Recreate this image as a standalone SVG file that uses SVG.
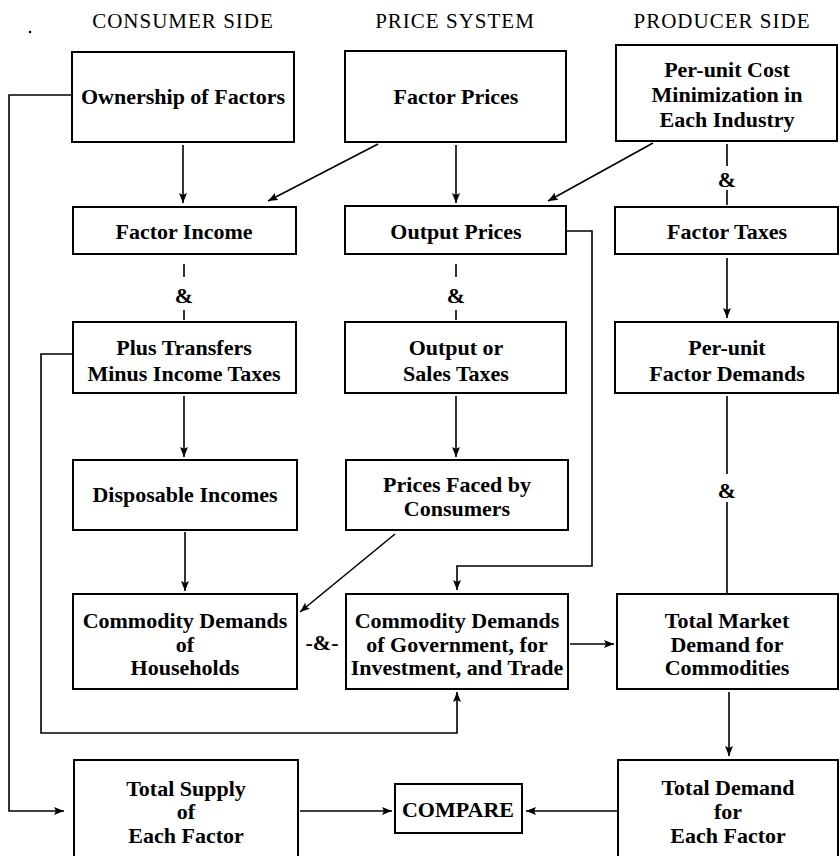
<svg xmlns="http://www.w3.org/2000/svg" width="840" height="856" viewBox="0 0 840 856">
<style>
.box{fill:#fff;stroke:#000;stroke-width:2}
.t{font-family:"Liberation Serif","Times New Roman",serif;font-size:22px;font-weight:bold;text-anchor:middle;fill:#000}
.h{font-family:"Liberation Serif","Times New Roman",serif;font-size:21px;letter-spacing:1px;text-anchor:middle;fill:#000}
.c{fill:none;stroke:#000;stroke-width:1.6}
</style>
<defs>
<marker id="ar" markerUnits="userSpaceOnUse" markerWidth="11" markerHeight="8" refX="10" refY="4" orient="auto">
<path d="M0,0 L10,4 L0,8 L2,4 z" fill="#000"/>
</marker>
</defs>
<rect width="840" height="856" fill="#fff"/>
<circle cx="30" cy="32" r="1.3" fill="#000"/>
<g id="headers">
<text class="h" x="183" y="28">CONSUMER SIDE</text>
<text class="h" x="455" y="28">PRICE SYSTEM</text>
<text class="h" x="722" y="28">PRODUCER SIDE</text>
</g>
<g id="connectors">
<path class="c" d="M183,145 L183,203" marker-end="url(#ar)"/>
<path class="c" d="M378,144 L268,201" marker-end="url(#ar)"/>
<path class="c" d="M456,145 L456,203" marker-end="url(#ar)"/>
<path class="c" d="M653,143 L548,201" marker-end="url(#ar)"/>
<path class="c" d="M727,144 L727,166 M727,190 L727,205"/>
<text class="t" x="727" y="187">&amp;</text>
<path class="c" d="M184,264 L184,277 M184,310 L184,320"/>
<text class="t" x="184" y="303">&amp;</text>
<path class="c" d="M456,264 L456,277 M456,310 L456,320"/>
<text class="t" x="456" y="303">&amp;</text>
<path class="c" d="M727,258 L727,318" marker-end="url(#ar)"/>
<path class="c" d="M184,396 L184,457" marker-end="url(#ar)"/>
<path class="c" d="M456,396 L456,457" marker-end="url(#ar)"/>
<path class="c" d="M727,396 L727,474 M727,502 L727,594"/>
<text class="t" x="727" y="498">&amp;</text>
<path class="c" d="M566,231 L592,231 L592,566 L457,566 L457,590" marker-end="url(#ar)"/>
<path class="c" d="M395,534 L300,612" marker-end="url(#ar)"/>
<path class="c" d="M185,532 L185,591" marker-end="url(#ar)"/>
<text class="t" x="322" y="650">-&amp;-</text>
<path class="c" d="M570,644 L614,644" marker-end="url(#ar)"/>
<path class="c" d="M73,354 L41,354 L41,733 L457,733 L457,692" marker-end="url(#ar)"/>
<path class="c" d="M72,95 L9,95 L9,811 L64,811" marker-end="url(#ar)"/>
<path class="c" d="M300,811 L392,811" marker-end="url(#ar)"/>
<path class="c" d="M617,811 L526,811" marker-end="url(#ar)"/>
<path class="c" d="M729,692 L729,756" marker-end="url(#ar)"/>
</g>
<g id="ownership"><rect class="box" x="72" y="52" width="222" height="90"/><text class="t" x="183" y="104">Ownership of Factors</text></g>
<g id="factor-prices"><rect class="box" x="345" y="51" width="221" height="91"/><text class="t" x="456" y="104">Factor Prices</text></g>
<g id="cost-min"><rect class="box" x="616" y="45" width="221" height="96"/><text class="t" x="727" y="77">Per-unit Cost</text><text class="t" x="727" y="102">Minimization in</text><text class="t" x="727" y="127">Each Industry</text></g>
<g id="factor-income"><rect class="box" x="73" y="207" width="223" height="47"/><text class="t" x="184" y="239">Factor Income</text></g>
<g id="output-prices"><rect class="box" x="345" y="206" width="221" height="48"/><text class="t" x="456" y="239">Output Prices</text></g>
<g id="factor-taxes"><rect class="box" x="615" y="207" width="223" height="47"/><text class="t" x="727" y="239">Factor Taxes</text></g>
<g id="transfers"><rect class="box" x="73" y="322" width="223" height="71"/><text class="t" x="184" y="355">Plus Transfers</text><text class="t" x="184" y="381">Minus Income Taxes</text></g>
<g id="output-taxes"><rect class="box" x="345" y="322" width="221" height="71"/><text class="t" x="456" y="355">Output or</text><text class="t" x="456" y="381">Sales Taxes</text></g>
<g id="factor-demands"><rect class="box" x="615" y="322" width="223" height="71"/><text class="t" x="727" y="355">Per-unit</text><text class="t" x="727" y="381">Factor Demands</text></g>
<g id="disposable"><rect class="box" x="73" y="460" width="224" height="70"/><text class="t" x="185" y="502">Disposable Incomes</text></g>
<g id="prices-faced"><rect class="box" x="346" y="460" width="222" height="70"/><text class="t" x="457" y="492">Prices Faced by</text><text class="t" x="457" y="516">Consumers</text></g>
<g id="households"><rect class="box" x="73" y="594" width="224" height="95"/><text class="t" x="185" y="628">Commodity Demands</text><text class="t" x="185" y="652">of</text><text class="t" x="185" y="675">Households</text></g>
<g id="government"><rect class="box" x="346" y="594" width="222" height="95"/><text class="t" x="457" y="628">Commodity Demands</text><text class="t" x="457" y="652">of Government, for</text><text class="t" x="457" y="675">Investment, and Trade</text></g>
<g id="market-demand"><rect class="box" x="617" y="594" width="221" height="95"/><text class="t" x="727" y="628">Total Market</text><text class="t" x="727" y="652">Demand for</text><text class="t" x="727" y="675">Commodities</text></g>
<g id="total-supply"><rect class="box" x="74" y="760" width="224" height="102"/><text class="t" x="186" y="796">Total Supply</text><text class="t" x="186" y="819">of</text><text class="t" x="186" y="843">Each Factor</text></g>
<g id="compare"><rect class="box" x="395" y="784" width="127" height="49"/><text class="t" x="458" y="817">COMPARE</text></g>
<g id="total-demand"><rect class="box" x="618" y="760" width="220" height="102"/><text class="t" x="728" y="795">Total Demand</text><text class="t" x="728" y="819">for</text><text class="t" x="728" y="843">Each Factor</text></g>
</svg>
